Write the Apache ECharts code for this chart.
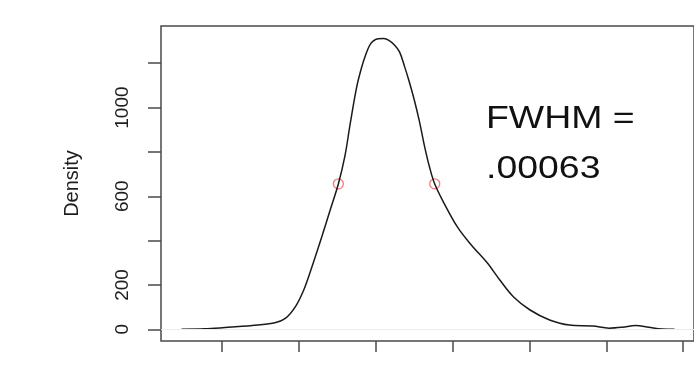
<!DOCTYPE html>
<html>
<head>
<meta charset="utf-8">
<script src="https://cdn.jsdelivr.net/npm/echarts@6/dist/echarts.min.js"></script>
<style>
  html, body { margin: 0; padding: 0; background: #ffffff; }
  #chart { width: 694px; height: 368px; }
</style>
</head>
<body>
<div id="chart"></div>
<script>
// Kernel density estimate: x positions and density values
const densityX = [
  -0.001263, -0.001113, -0.000995, -0.000803, -0.000662, -0.000586, -0.000522,
  -0.000468, -0.000415, -0.000351, -0.000296, -0.000243, -0.000200,
  -0.000166, -0.000125, -0.000094, -0.000064, -0.000040, -0.000017, 0.000015,
  0.000053, 0.000086, 0.000122, 0.000155, 0.000187, 0.000215, 0.000251,
  0.000284, 0.000316, 0.000350, 0.000384, 0.000445, 0.000530, 0.000616,
  0.000725, 0.000810, 0.000897, 0.001004, 0.001131, 0.001260, 0.001411,
  0.001518, 0.001604, 0.001690, 0.001776, 0.001862, 0.001943
];
const densityY = [
  0, 2, 7, 17, 28, 50, 102,
  177, 281, 416, 538, 655, 782,
  926, 1088, 1175, 1240, 1280, 1300, 1310,
  1311, 1303, 1282, 1251, 1187, 1124, 1034,
  939, 831, 732, 655, 568, 463, 385,
  300, 220, 146, 87, 42, 19, 15,
  5, 9, 17, 9, 1, 0
];

// Half-maximum crossing points
const halfMaxX = [-0.000243, 0.000384];
const halfMaxY = [656, 656];

// Axis ticks and labels
const xTicks = [-0.001, -0.0005, 0, 0.0005, 0.001, 0.0015, 0.002];
const yTicks = [0, 200, 400, 600, 800, 1000, 1200];
const yLabels = [0, 200, 600, 1000];

// Annotation text
const fwhmLines = ['FWHM =', '.00063'];

const FONT = '"Liberation Sans", Arial, Helvetica, sans-serif';

const chart = echarts.init(document.getElementById('chart'), null, { renderer: 'canvas' });

chart.setOption({
  animation: false,
  backgroundColor: '#ffffff',
  grid: {
    left: 161,
    top: 26,
    width: 538,
    height: 315,
    show: true,
    borderColor: '#4a4a4a',
    borderWidth: 1.5,
    backgroundColor: 'transparent'
  },
  xAxis: {
    type: 'value',
    min: -0.0013963,
    max: 0.0020702,
    axisLine: { show: false, onZero: false },
    splitLine: { show: false },
    axisLabel: { show: false },
    axisTick: {
      show: true,
      customValues: xTicks,
      length: 11,
      lineStyle: { color: '#4a4a4a', width: 1.5 }
    }
  },
  yAxis: {
    type: 'value',
    min: -52.8,
    max: 1367.9,
    axisLine: { show: false, onZero: false },
    splitLine: { show: false },
    axisTick: {
      show: true,
      customValues: yTicks,
      length: 13,
      lineStyle: { color: '#4a4a4a', width: 1.5 }
    },
    axisLabel: {
      show: true,
      customValues: yLabels,
      formatter: (v) => String(v),
      rotate: 90,
      margin: 29,
      fontFamily: FONT,
      fontSize: 19,
      color: '#1e1e1e'
    },
    name: 'Density',
    nameLocation: 'middle',
    nameRotate: 90,
    nameGap: 79,
    nameTextStyle: { fontFamily: FONT, fontSize: 20, color: '#1e1e1e' }
  },
  series: [
    {
      type: 'line',
      data: densityX.map((x, i) => [x, densityY[i]]),
      smooth: 0.35,
      showSymbol: false,
      lineStyle: { color: '#1a1a1a', width: 1.5 },
      silent: true,
      markLine: {
        silent: true,
        symbol: ['none', 'none'],
        label: { show: false },
        lineStyle: { color: '#ececec', width: 1, type: 'solid' },
        data: [{ yAxis: 0 }]
      }
    },
    {
      type: 'scatter',
      data: halfMaxX.map((x, i) => [x, halfMaxY[i]]),
      symbol: 'circle',
      symbolSize: 10,
      itemStyle: { color: 'rgba(255,255,255,0)', borderColor: '#f05a5a', borderWidth: 1.3 },
      silent: true
    }
  ],
  graphic: [
    {
      type: 'text',
      x: 486,
      y: 119,
      scaleX: 1.17,
      style: {
        text: fwhmLines[0],
        fontFamily: FONT,
        fontSize: 32,
        fill: '#111111',
        verticalAlign: 'middle'
      }
    },
    {
      type: 'text',
      x: 486,
      y: 169,
      scaleX: 1.17,
      style: {
        text: fwhmLines[1],
        fontFamily: FONT,
        fontSize: 32,
        fill: '#111111',
        verticalAlign: 'middle'
      }
    }
  ]
});
</script>
</body>
</html>
